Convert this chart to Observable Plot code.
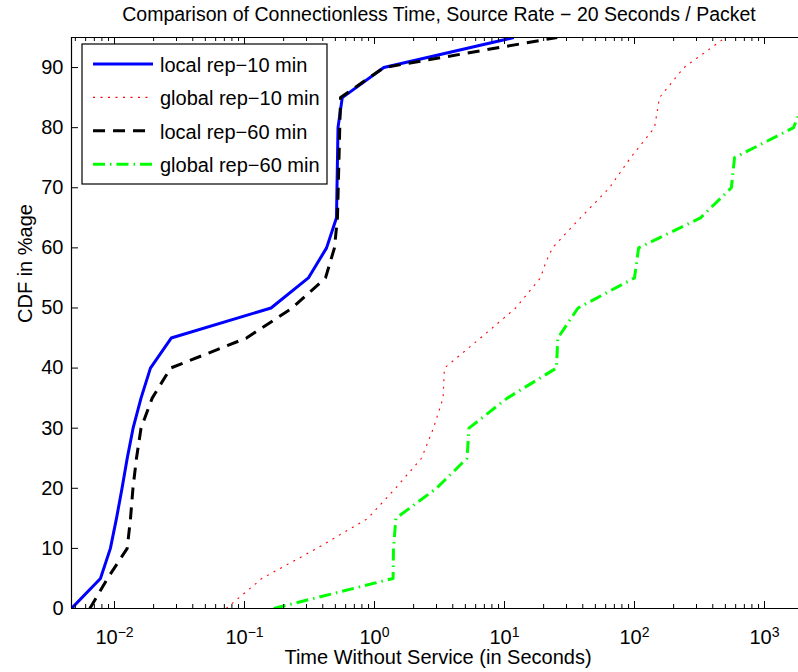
<!DOCTYPE html>
<html><head><meta charset="utf-8">
<script src="https://cdn.jsdelivr.net/npm/d3@7"></script>
<script src="https://cdn.jsdelivr.net/npm/@observablehq/plot@0.6"></script>
<style>
html,body{margin:0;padding:0;background:#fff;}
#chart svg{display:block;}
</style>
</head><body><div id="chart"></div>
<script>
// ---- text ----
const titleText = "Comparison of Connectionless Time, Source Rate \u2212 20 Seconds / Packet";
const xLabelText = "Time Without Service (in Seconds)";
const yLabelText = "CDF in %age";

// ---- series ----
const seriesNames = ["local rep\u221210 min", "global rep\u221210 min", "local rep\u221260 min", "global rep\u221260 min"];
const seriesColors = ["#0000ff", "#ff0000", "#000000", "#00ff00"];
const seriesDash = ["none", "2,5.5", "12,8", "12,5,1.5,5"];
const seriesWidths = [3, 1.1, 3, 3];

const localRep10Time = [0.00467, 0.0078, 0.0093, 0.01036, 0.01143, 0.01253, 0.0139, 0.0160, 0.0189, 0.0273, 0.160, 0.31, 0.428, 0.510, 0.524, 0.565, 1.18, 11.8];
const localRep10Cdf  = [0, 5, 10, 15, 20, 25, 30, 35, 40, 45, 50, 55, 60, 65, 80, 85, 90, 95];

const globalRep10Time = [0.0723, 0.136, 0.36, 0.89, 1.45, 2.30, 2.84, 3.37, 3.45, 6.54, 12.2, 18.9, 20.7, 23.4, 38.4, 64.2, 93.2, 142.5, 155.7, 240, 501];
const globalRep10Cdf  = [0, 5, 10, 15, 20, 25, 30, 35, 40, 45, 50, 55, 57.5, 60, 65, 70, 75, 80, 85, 90, 95];

const localRep60Time = [0.00646, 0.00884, 0.01253, 0.01328, 0.01387, 0.01476, 0.0160, 0.0195, 0.0270, 0.1036, 0.2328, 0.42, 0.492, 0.519, 0.548, 1.179, 25.4];
const localRep60Cdf  = [0, 5, 10, 15, 20, 25, 30, 35, 40, 45, 50, 55, 60, 65, 85, 90, 95];

const globalRep60Time = [0.168, 1.39, 1.40, 1.46, 3.0, 5.15, 5.33, 10.5, 25.1, 25.7, 36.8, 100, 107.6, 322, 556, 588, 1671, 2066];
const globalRep60Cdf  = [0, 5, 10, 15, 20, 25, 30, 35, 40, 45, 50, 55, 60, 65, 70, 75, 80, 85];

// ---- axes ----
const xDomain = [0.00467, 1826];
const yDomain = [0, 95];
const xMajorTicks = [0.01, 0.1, 1, 10, 100, 1000];
const yTicks = [0, 10, 20, 30, 40, 50, 60, 70, 80, 90];

const seriesTimes = [localRep10Time, globalRep10Time, localRep60Time, globalRep60Time];
const seriesCdfs = [localRep10Cdf, globalRep10Cdf, localRep60Cdf, globalRep60Cdf];
const rows = seriesTimes.map((ts, i) => ts.map((t, j) => ({series: seriesNames[i], t, c: seriesCdfs[i][j]})));

const xMinorTicks = d3.scaleLog().domain(xDomain).ticks().filter(v => !xMajorTicks.some(m => Math.abs(m - v) / m < 1e-9));

const W = 798, H = 672;
const mL = 71, mR = 0, mT = 37, mB = 64;
const innerW = W - mL - mR, innerH = H - mT - mB;
const FONT = "'Liberation Sans', Arial, Helvetica, sans-serif";

const lineMarks = rows.map((r, i) => Plot.line(r, {
  x: "t", y: "c",
  stroke: seriesColors[i],
  strokeWidth: seriesWidths[i],
  strokeDasharray: seriesDash[i],
  strokeLinecap: "butt",
  strokeLinejoin: "round",
  clip: true
}));

const plot = Plot.plot({
  width: W, height: H,
  marginLeft: mL, marginRight: mR, marginTop: mT, marginBottom: mB,
  style: {fontFamily: FONT, fontSize: "20px", color: "#000", background: "#fff"},
  x: {type: "log", domain: xDomain},
  y: {domain: yDomain},
  marks: [
    ...lineMarks,
    // box lines
    Plot.ruleY([yDomain[0]], {stroke: "#000", strokeWidth: 1.2}),
    Plot.ruleY([yDomain[1]], {stroke: "#000", strokeWidth: 1.2}),
    Plot.ruleX([xDomain[0]], {stroke: "#000", strokeWidth: 1.2}),
    // inward ticks
    Plot.ruleX(xMajorTicks, {x: d => d, insetTop: innerH - 7, stroke: "#000"}),
    Plot.ruleX(xMajorTicks, {x: d => d, insetBottom: innerH - 7, stroke: "#000"}),
    Plot.ruleX(xMinorTicks, {x: d => d, insetTop: innerH - 4, stroke: "#000"}),
    Plot.ruleX(xMinorTicks, {x: d => d, insetBottom: innerH - 4, stroke: "#000"}),
    Plot.ruleY(yTicks, {y: d => d, insetRight: innerW - 7, stroke: "#000"}),
    // tick labels
    Plot.axisY(yTicks, {tickSize: 0, tickPadding: 8, fontSize: 20, label: null}),
    Plot.axisX(xMajorTicks, {tickSize: 0, tickPadding: 21, fontSize: 20, label: null,
      tickFormat: d => "10^" + Math.round(Math.log10(d))}),
    // titles
    Plot.text([titleText], {text: d => d, frameAnchor: "top", dy: -23, dx: 4, lineAnchor: "middle", fontSize: 19.5}),
    Plot.text([xLabelText], {text: d => d, frameAnchor: "bottom", dy: 49, dx: 3, lineAnchor: "middle", fontSize: 20}),
    Plot.text([yLabelText], {text: d => d, frameAnchor: "left", dx: -46, rotate: -90, lineAnchor: "middle", fontSize: 20})
  ]
});

document.getElementById("chart").appendChild(plot);

// superscript exponents on x tick labels
d3.select(plot).selectAll('g[aria-label="x-axis tick label"] text').each(function() {
  const t = d3.select(this);
  const s = t.text();
  const [base, ex] = s.split("^");
  t.text("");
  t.append("tspan").text(base);
  t.append("tspan").attr("dy", "-0.5em").attr("font-size", "14px").text(ex.replace("-", "\u2212"));
});

// legend
const svg = d3.select(plot);
const lg = svg.append("g").attr("font-family", FONT).attr("font-size", 20).attr("text-anchor", "start");
lg.append("rect").attr("x", 82).attr("y", 44).attr("width", 245).attr("height", 140)
  .attr("fill", "#fff").attr("stroke", "#000").attr("stroke-width", 1.2);
seriesNames.forEach((name, i) => {
  const y = 64 + i * 33.4;
  lg.append("line").attr("x1", 93).attr("x2", 153).attr("y1", y).attr("y2", y)
    .attr("stroke", seriesColors[i]).attr("stroke-width", seriesWidths[i])
    .attr("stroke-dasharray", seriesDash[i]);
  lg.append("text").attr("x", 160).attr("y", y + 8).attr("fill", "#000")
    .attr("text-anchor", "start").text(name);
});
</script>
</body></html>
